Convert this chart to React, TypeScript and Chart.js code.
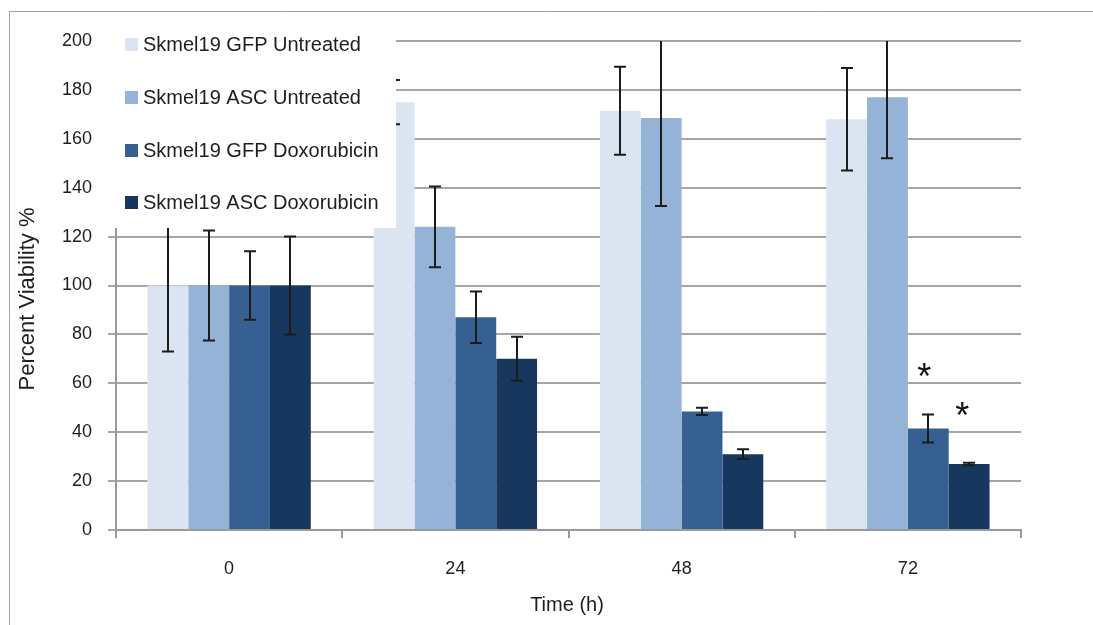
import React, { useEffect, useRef } from 'react';
import { Chart, registerables } from 'chart.js';

Chart.register(...registerables);

const categories = ['0', '24', '48', '72'];
const seriesNames = [
  'Skmel19 GFP Untreated',
  'Skmel19 ASC Untreated',
  'Skmel19 GFP Doxorubicin',
  'Skmel19 ASC Doxorubicin',
];
const gfpUntreated = [100, 175, 171.5, 168];
const ascUntreated = [100, 124, 168.5, 177];
const gfpDox = [100, 87, 48.5, 41.5];
const ascDox = [100, 70, 31, 27];
const gfpUntreatedErr = [27, 9, 18, 21];
const ascUntreatedErr = [22.5, 16.5, 36, 25];
const gfpDoxErr = [14, 10.5, 1.5, 5.7];
const ascDoxErr = [20, 9, 2, 0.5];
const gfpDoxStar = [null, null, null, 65];
const ascDoxStar = [null, null, null, 49];
const yTickLabels = ['0', '20', '40', '60', '80', '100', '120', '140', '160', '180', '200'];
const xTitle = 'Time (h)';
const yTitle = 'Percent Viability %';

const colors = ['#dbe5f1', '#95b3d7', '#376092', '#17375e'];
const seriesValues = [gfpUntreated, ascUntreated, gfpDox, ascDox];
const seriesErrors = [gfpUntreatedErr, ascUntreatedErr, gfpDoxErr, ascDoxErr];
const seriesStars = [null, null, gfpDoxStar, ascDoxStar];

const FONT = '"Liberation Sans", Arial, sans-serif';

const backgroundPlugin = {
  id: 'bgFrame',
  beforeDraw(chart: any) {
    const ctx = chart.ctx;
    ctx.save();
    ctx.fillStyle = '#ffffff';
    ctx.fillRect(0, 0, chart.width, chart.height);
    ctx.strokeStyle = '#a0a0a0';
    ctx.lineWidth = 1;
    ctx.beginPath();
    ctx.moveTo(9.5, chart.height);
    ctx.lineTo(9.5, 11.5);
    ctx.lineTo(chart.width, 11.5);
    ctx.stroke();
    ctx.restore();
  },
};

const errorBarPlugin = {
  id: 'errorBars',
  afterDatasetsDraw(chart: any) {
    const ctx = chart.ctx;
    const area = chart.chartArea;
    const y = chart.scales.y;
    ctx.save();
    ctx.beginPath();
    ctx.rect(area.left, area.top, area.right - area.left, area.bottom - area.top);
    ctx.clip();
    ctx.strokeStyle = '#1c1c1c';
    ctx.lineWidth = 2;
    chart.data.datasets.forEach((ds: any, di: number) => {
      const meta = chart.getDatasetMeta(di);
      const errs = seriesErrors[di];
      meta.data.forEach((el: any, i: number) => {
        const v = ds.data[i];
        const e = errs[i];
        const top = y.getPixelForValue(v + e);
        const bot = y.getPixelForValue(v - e);
        const x = Math.round(el.x);
        ctx.beginPath();
        ctx.moveTo(x, top);
        ctx.lineTo(x, bot);
        ctx.moveTo(x - 6, top);
        ctx.lineTo(x + 6, top);
        ctx.moveTo(x - 6, bot);
        ctx.lineTo(x + 6, bot);
        ctx.stroke();
      });
    });
    ctx.restore();
  },
};

const starPlugin = {
  id: 'stars',
  afterDatasetsDraw(chart: any) {
    const ctx = chart.ctx;
    const y = chart.scales.y;
    ctx.save();
    ctx.fillStyle = '#111111';
    ctx.font = '36px ' + FONT;
    ctx.textAlign = 'center';
    ctx.textBaseline = 'middle';
    const offsets = [0, 0, -4, -7];
    seriesStars.forEach((stars, di) => {
      if (!stars) return;
      const meta = chart.getDatasetMeta(di);
      stars.forEach((s, i) => {
        if (s == null) return;
        const el = meta.data[i];
        ctx.fillText('*', el.x + offsets[di], y.getPixelForValue(s) + 8);
      });
    });
    ctx.restore();
  },
};

const legendBoxPlugin = {
  id: 'legendBox',
  afterDatasetsDraw(chart: any) {
    const ctx = chart.ctx;
    ctx.save();
    ctx.fillStyle = '#ffffff';
    ctx.fillRect(100, 20, 296, 208);
    const rows = [44, 97, 150, 202];
    ctx.font = '20px ' + FONT;
    ctx.textBaseline = 'middle';
    ctx.textAlign = 'left';
    seriesNames.forEach((name, i) => {
      ctx.fillStyle = colors[i];
      ctx.fillRect(125, rows[i] - 6, 13, 13);
      ctx.fillStyle = '#1e1e1e';
      ctx.fillText(name, 143, rows[i] + 1);
    });
    ctx.restore();
  },
};

const titlesPlugin = {
  id: 'axisTitles',
  afterDraw(chart: any) {
    const ctx = chart.ctx;
    ctx.save();
    ctx.fillStyle = '#1e1e1e';
    ctx.textAlign = 'center';
    ctx.textBaseline = 'middle';
    ctx.font = '20px ' + FONT;
    ctx.fillText(xTitle, 567, 605);
    ctx.translate(28, 299);
    ctx.rotate(-Math.PI / 2);
    ctx.font = '22px ' + FONT;
    ctx.fillText(yTitle, 0, 0);
    ctx.restore();
  },
};

export default function App() {
  const ref = useRef<HTMLCanvasElement | null>(null);
  useEffect(() => {
    if (!ref.current) return;
    const chart = new Chart(ref.current, {
      type: 'bar',
      data: {
        labels: categories,
        datasets: seriesNames.map((name, i) => ({
          label: name,
          data: seriesValues[i],
          backgroundColor: colors[i],
          borderWidth: 0,
          barPercentage: 1,
          categoryPercentage: 0.722,
        })),
      },
      options: {
        responsive: false,
        animation: false,
        devicePixelRatio: 1,
        layout: { padding: { left: 0, top: 41, right: 72, bottom: 0 } },
        plugins: {
          legend: { display: false },
          tooltip: { enabled: false },
          title: { display: false },
        },
        scales: {
          x: {
            type: 'category',
            offset: true,
            grid: {
              offset: true,
              drawOnChartArea: false,
              drawTicks: true,
              tickLength: 8,
              color: '#9a9a9a',
              lineWidth: 2,
            },
            border: { display: true, color: '#9a9a9a', width: 2 },
            ticks: {
              color: '#1e1e1e',
              font: { family: FONT, size: 18 },
              padding: 20,
            },
            afterFit(scale: any) {
              scale.height = 95;
            },
          },
          y: {
            min: 0,
            max: 200,
            afterBuildTicks(scale: any) {
              scale.ticks = yTickLabels.map((t) => ({ value: Number(t) }));
            },
            grid: {
              color: '#a6a6a6',
              lineWidth: 2,
              tickLength: 8,
              drawTicks: true,
            },
            border: { display: true, color: '#9a9a9a', width: 2 },
            ticks: {
              color: '#1e1e1e',
              font: { family: FONT, size: 18 },
              padding: 16,
              callback: (v: any) => String(v),
            },
            afterFit(scale: any) {
              scale.width = 116;
            },
          },
        },
      },
      plugins: [backgroundPlugin, errorBarPlugin, starPlugin, legendBoxPlugin, titlesPlugin],
    } as any);
    return () => chart.destroy();
  }, []);
  return (
    <div style={{ position: 'absolute', left: 0, top: 0, width: 1093, height: 625 }}>
      <canvas ref={ref} width={1093} height={625} style={{ width: 1093, height: 625, display: 'block' }} />
    </div>
  );
}
